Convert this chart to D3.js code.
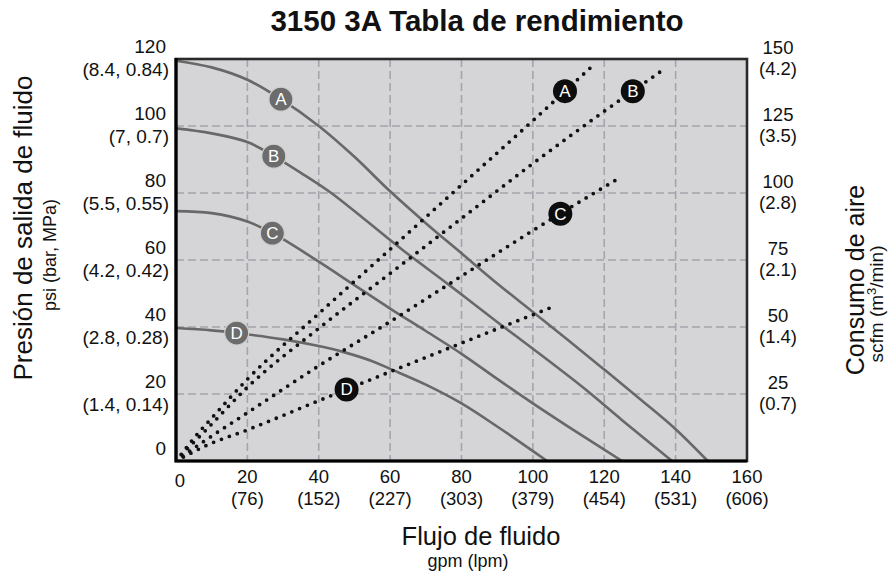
<!DOCTYPE html>
<html>
<head>
<meta charset="utf-8">
<script src="https://cdn.jsdelivr.net/npm/d3@7"></script>
<style>
  html, body { margin: 0; padding: 0; background: #fff; }
  svg text { font-family: "Liberation Sans", Arial, Helvetica, sans-serif; fill: #111; }
</style>
</head>
<body>
<svg id="chart" width="888" height="577"></svg>
<script>
// ---------------- DATA ----------------
const chartTitle = "3150 3A Tabla de rendimiento";
const seriesNames = ["A", "B", "C", "D"];

// x axis: fluid flow, gpm (lpm)
const flowTicks = [0, 20, 40, 60, 80, 100, 120, 140, 160];
const flowTickLpm = ["", "(76)", "(152)", "(227)", "(303)", "(379)", "(454)", "(531)", "(606)"];

// left axis: fluid outlet pressure, psi (bar, MPa)
const psiTicks = [0, 20, 40, 60, 80, 100, 120];
const psiTickSub = ["", "(1.4, 0.14)", "(2.8, 0.28)", "(4.2, 0.42)", "(5.5, 0.55)", "(7, 0.7)", "(8.4, 0.84)"];

// right axis: air consumption, scfm (m3/min)
const scfmTicks = [25, 50, 75, 100, 125, 150];
const scfmTickSub = ["(0.7)", "(1.4)", "(2.1)", "(2.8)", "(3.5)", "(4.2)"];

// fluid pressure curves [gpm, psi]
const pressureA = [[0,119.5],[10,117.5],[20,113.8],[29.4,108],[40,100],[50,90.8],[60,80.5],[70,71],[80,62],[90,53],[100,44.5],[110,36],[120,27.3],[130,18.5],[140,9.5],[149,0]];
const pressureB = [[0,99.3],[10,97.8],[20,95.2],[27.4,91],[35,86],[43.5,80],[53,72],[63.5,63],[76.6,52.5],[90,41.5],[100,33.5],[114,22],[125,12.2],[139,0]];
const pressureC = [[0,74.6],[10,74],[20,71.5],[27,68],[30,66.2],[40,59.5],[50,52.5],[60,45.5],[70,38.8],[80,32],[90,24.5],[100,17.2],[110,10.2],[125,0]];
const pressureD = [[0,39.7],[10,39],[17,38.2],[30,36.3],[40,34.3],[47,32.5],[55,29.8],[60,27.5],[70,22.8],[80,17.2],[90,10.3],[104,0]];

// air consumption curves [gpm, scfm]
const airA = [[0,0],[2,3.4],[5,8.5],[10,16],[20,30.5],[40,55],[60,79],[80,103],[100,127],[117,147.8]];
const airB = [[0,0],[3,4.3],[8,11],[20,27.5],[40,49.5],[60,70],[80,90.5],[100,111],[120,130.5],[136,145.5]];
const airC = [[0,0],[3,2.9],[8,7.5],[20,18],[40,35.5],[60,52],[80,69],[100,86],[124.7,106]];
const airD = [[0,0],[3,2.1],[8,5.5],[20,11.6],[40,22.5],[60,33.3],[80,44],[104.6,57]];

// label positions along each curve (gpm)
const pressureLabelGpm = [29.4, 27.4, 27, 17];
const airLabelGpm = [109, 128, 107.7, 47.8];

// ---------------- CHART ----------------
const pressureSeries = [pressureA, pressureB, pressureC, pressureD];
const airSeries = [airA, airB, airC, airD];

const svg = d3.select("#chart");
const L = 176, R = 747, T = 59, B = 461;

const x = d3.scaleLinear().domain([0, 160]).range([L, R]);
const yP = d3.scaleLinear().domain([0, 120]).range([B, T]);
const yA = d3.scaleLinear().domain([0, 150]).range([B, T]);

// plot background
svg.append("rect").attr("x", L).attr("y", T).attr("width", R - L).attr("height", B - T)
  .attr("fill", "#d5d5d7");

// grid
const grid = svg.append("g").attr("stroke", "#a4a4ac").attr("stroke-width", 1.6)
  .attr("stroke-dasharray", "8,4");
grid.selectAll("line.v").data(flowTicks.filter(d => d > 0 && d < 160)).join("line")
  .attr("x1", d => x(d)).attr("x2", d => x(d)).attr("y1", T).attr("y2", B);
grid.selectAll("line.h").data(psiTicks.filter(d => d > 0 && d < 120)).join("line")
  .attr("class", "h")
  .attr("y1", d => yP(d)).attr("y2", d => yP(d)).attr("x1", L).attr("x2", R);

// clip for curves
svg.append("clipPath").attr("id", "plotclip").append("rect")
  .attr("x", L).attr("y", T).attr("width", R - L).attr("height", B - T);

const plot = svg.append("g").attr("clip-path", "url(#plotclip)");

const pLine = d3.line().x(d => x(d[0])).y(d => yP(d[1])).curve(d3.curveCatmullRom.alpha(0.5));
const aLine = d3.line().x(d => x(d[0])).y(d => yA(d[1])).curve(d3.curveMonotoneX);

plot.selectAll("path.p").data(pressureSeries).join("path")
  .attr("class", "p")
  .attr("d", pLine).attr("fill", "none").attr("stroke", "#686868").attr("stroke-width", 2.6);

plot.selectAll("path.a").data(airSeries).join("path")
  .attr("class", "a")
  .attr("d", aLine).attr("fill", "none").attr("stroke", "#111")
  .attr("stroke-width", 3.8).attr("stroke-linecap", "round").attr("stroke-dasharray", "0,8.4");

// frame
svg.append("rect").attr("x", L).attr("y", T).attr("width", R - L).attr("height", B - T)
  .attr("fill", "none").attr("stroke", "#2a2a2a").attr("stroke-width", 2.6);
svg.append("path").attr("d", `M${L},${T - 1}V${B}H${R}`).attr("fill", "none")
  .attr("stroke", "#000").attr("stroke-width", 3.2);

// helper: interpolate a series at gpm
function interp(series, g) {
  for (let i = 1; i < series.length; i++) {
    const a = series[i - 1], b = series[i];
    if (g <= b[0]) return a[1] + (b[1] - a[1]) * (g - a[0]) / (b[0] - a[0]);
  }
  return series[series.length - 1][1];
}

// curve labels
const labG = svg.append("g");
seriesNames.forEach((n, i) => {
  const g = pressureLabelGpm[i];
  const cx = x(g), cy = yP(interp(pressureSeries[i], g));
  labG.append("circle").attr("cx", cx).attr("cy", cy).attr("r", 12)
    .attr("fill", "#6c6c6c").attr("stroke", "#cfcfcf").attr("stroke-width", 1.2);
  labG.append("text").attr("x", cx).attr("y", cy + 6).attr("text-anchor", "middle")
    .style("fill", "#fff").style("font-size", "17px").text(n);
});
seriesNames.forEach((n, i) => {
  const g = airLabelGpm[i];
  const cx = x(g), cy = yA(interp(airSeries[i], g));
  labG.append("circle").attr("cx", cx).attr("cy", cy).attr("r", 12).attr("fill", "#0d0d0d");
  labG.append("text").attr("x", cx).attr("y", cy + 6).attr("text-anchor", "middle")
    .style("fill", "#fff").style("font-size", "17px").text(n);
});

// x tick labels
const xt = svg.append("g").style("font-size", "18.5px");
flowTicks.forEach((t, i) => {
  xt.append("text").attr("x", x(t) + (t === 0 ? 4 : 0)).attr("y", t === 0 ? 487 : 483)
    .attr("text-anchor", "middle").text(t);
  if (flowTickLpm[i]) xt.append("text").attr("x", x(t)).attr("y", 505)
    .attr("text-anchor", "middle").text(flowTickLpm[i]);
});

// left tick labels
const lt = svg.append("g").style("font-size", "19px");
psiTicks.forEach((t, i) => {
  const y0 = yP(t);
  lt.append("text").attr("x", 166).attr("y", y0 - 6)
    .attr("text-anchor", "end").text(t);
  if (psiTickSub[i]) lt.append("text").attr("x", 169).attr("y", y0 + 17)
    .attr("text-anchor", "end").text(psiTickSub[i]);
});

// right tick labels
const rt = svg.append("g").style("font-size", "18.5px");
scfmTicks.forEach((t, i) => {
  const y0 = yA(t);
  rt.append("text").attr("x", 778).attr("y", y0 - 5).attr("text-anchor", "middle").text(t);
  rt.append("text").attr("x", 778).attr("y", y0 + 16).attr("text-anchor", "middle").text(scfmTickSub[i]);
});

// title
svg.append("text").attr("x", 477).attr("y", 31).attr("text-anchor", "middle")
  .style("font-size", "29.5px").style("font-weight", "bold").text(chartTitle);

// x axis title
svg.append("text").attr("x", 481).attr("y", 545).attr("text-anchor", "middle")
  .style("font-size", "25.5px").text("Flujo de fluido");
svg.append("text").attr("x", 468).attr("y", 567).attr("text-anchor", "middle")
  .style("font-size", "18px").text("gpm (lpm)");

// left axis title
svg.append("text").attr("transform", "translate(32,228) rotate(-90)").attr("text-anchor", "middle")
  .style("font-size", "26px").text("Presión de salida de fluido");
svg.append("text").attr("transform", "translate(56,255) rotate(-90)").attr("text-anchor", "middle")
  .style("font-size", "18px").text("psi (bar, MPa)");

// right axis title
svg.append("text").attr("transform", "translate(864,280) rotate(-90)").attr("text-anchor", "middle")
  .style("font-size", "25px").text("Consumo de aire");
const sub = svg.append("text").attr("transform", "translate(883,304) rotate(-90)").attr("text-anchor", "middle")
  .style("font-size", "19px");
sub.append("tspan").text("scfm (m");
sub.append("tspan").attr("dy", -7).style("font-size", "13px").text("3");
sub.append("tspan").attr("dy", 7).text("/min)");
</script>
</body>
</html>
